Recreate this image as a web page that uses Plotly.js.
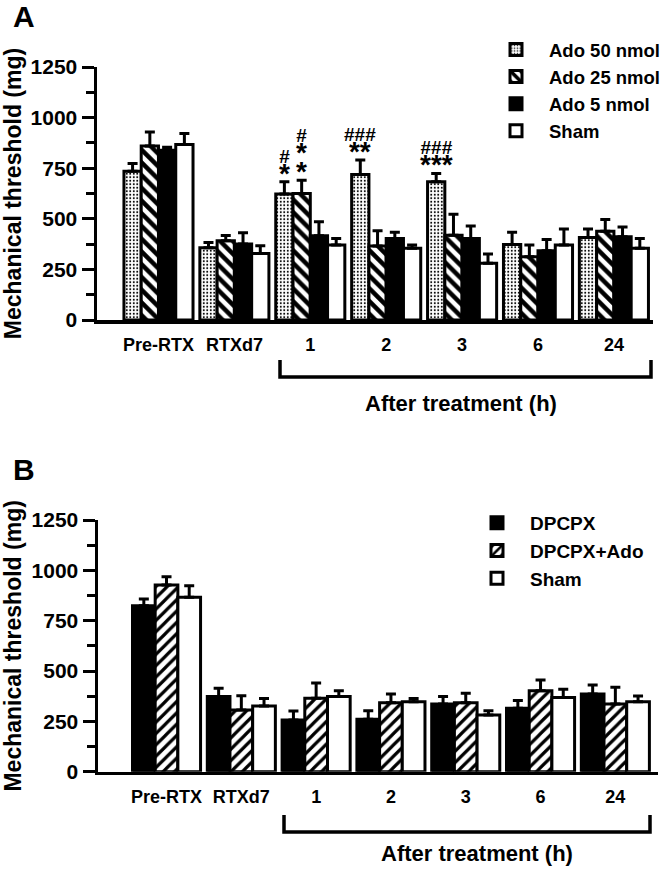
<!DOCTYPE html>
<html>
<head>
<meta charset="utf-8">
<script src="https://cdn.plot.ly/plotly-3.0.1.min.js"></script>
<style>
  body { margin: 0; background: #fff; }
  #chart { width: 670px; height: 869px; }
</style>
</head>
<body>
<div id="chart"></div>
<script>
// time points (x categories)
const timepoints = ['Pre-RTX', 'RTXd7', '1', '2', '3', '6', '24'];

// panel A: adenosine doses
const ado50 = [735, 357, 622, 719, 683, 373, 408];
const ado50Err = [38, 26, 61, 71, 41, 60, 41];
const ado25 = [860, 391, 625, 365, 419, 312, 439];
const ado25Err = [69, 27, 66, 76, 104, 58, 58];
const ado5 = [839, 375, 416, 403, 403, 342, 411];
const ado5Err = [15, 56, 69, 30, 62, 56, 49];
const shamA = [867, 329, 370, 354, 280, 370, 354];
const shamAErr = [54, 38, 33, 16, 46, 79, 49];

// panel B: DPCPX
const dpcpx = [824, 373, 257, 260, 336, 315, 386];
const dpcpxErr = [34, 41, 44, 43, 37, 38, 44];
const dpcpxAdo = [927, 306, 365, 343, 343, 402, 336];
const dpcpxAdoErr = [41, 71, 75, 43, 46, 53, 83];
const shamB = [866, 326, 373, 348, 281, 369, 348];
const shamBErr = [58, 38, 29, 16, 22, 40, 28];

// significance marks in panel A (group index, bar index, stars, hashes)
const markGroup = [2, 2, 3, 4];
const markBar = [0, 1, 0, 0];
const markStars = ['*', '*|*', '**', '***'];
const markHash = ['#', '#', '###', '###'];

const W = 670, H = 869;
const px = x => x / W;
const py = y => 1 - y / H;
const FONT = 'Liberation Sans, Arial, sans-serif';
const bold = (size) => ({family: FONT, size: size, color: 'black', weight: 'bold'});

function bar(name, y, err, pattern, color, xa, ya, legend) {
    return {
        type: 'bar', name: name, x: timepoints, y: y,
        xaxis: xa, yaxis: ya, legend: legend, legendgroup: name,
        marker: {
            color: color,
            line: {color: 'black', width: 3},
            pattern: pattern
        },
        error_y: {
            type: 'data', symmetric: false, array: err,
            arrayminus: err.map(() => 0),
            color: 'black', thickness: 3, width: 5
        },
        hoverinfo: 'skip'
    };
}

const dots = {shape: '.', fgcolor: 'black', bgcolor: 'white', size: 3.5, solidity: 0.25};
const back = {shape: '\\', fgcolor: 'black', bgcolor: 'white', size: 9, solidity: 0.5};
const fwd = {shape: '/', fgcolor: 'black', bgcolor: 'white', size: 8, solidity: 0.4};

const data = [
    bar('Ado 50 nmol', ado50, ado50Err, dots, 'white', 'x', 'y', 'legend'),
    bar('Ado 25 nmol', ado25, ado25Err, back, 'white', 'x', 'y', 'legend'),
    bar('Ado 5 nmol', ado5, ado5Err, {shape: ''}, 'black', 'x', 'y', 'legend'),
    bar('Sham', shamA, shamAErr, {shape: ''}, 'white', 'x', 'y', 'legend'),
    bar('DPCPX', dpcpx, dpcpxErr, {shape: ''}, 'black', 'x2', 'y2', 'legend2'),
    bar('DPCPX+Ado', dpcpxAdo, dpcpxAdoErr, fwd, 'white', 'x2', 'y2', 'legend2'),
    bar('Sham ', shamB, shamBErr, {shape: ''}, 'white', 'x2', 'y2', 'legend2')
];

function yAxis(domain, anchor) {
    return {
        domain: domain, anchor: anchor, range: [0, 1250],
        tickvals: [0, 250, 500, 750, 1000, 1250],
        ticks: 'outside', ticklen: 12, tickwidth: 3, tickcolor: 'black',
        minor: {dtick: 125, ticks: 'outside', ticklen: 8, tickwidth: 3, tickcolor: 'black'},
        showline: true, linewidth: 3.5, linecolor: 'black',
        showgrid: false, zeroline: false,
        tickfont: bold(21),
        title: {text: 'Mechanical threshold (mg)', font: bold(23), standoff: 4},
        fixedrange: true
    };
}
function xAxis(domain, anchor, range) {
    return {
        domain: domain, anchor: anchor, type: 'category', range: range,
        showline: true, linewidth: 3.5, linecolor: 'black',
        ticks: '', showgrid: false, zeroline: false,
        tickfont: bold(18), ticklabelstandoff: 6,
        fixedrange: true
    };
}

// significance marks: one stacked text per bar, hashes on top of stars
const nBarsA = 4, gap = 0.09, bw = (1 - gap) / nBarsA;
const annotations = [];
markGroup.forEach((g, i) => {
    const b = markBar[i];
    const series = [ado50, ado25, ado5, shamA][b];
    const errs = [ado50Err, ado25Err, ado5Err, shamAErr][b];
    const rows = ['<span style="font-size:19px">' + markHash[i] + '</span>']
        .concat(markStars[i].split('|').map(s => '<span style="font-size:28px">' + s + '</span>'));
    annotations.push({
        xref: 'x', yref: 'y',
        x: g + (b - (nBarsA - 1) / 2) * bw,
        y: series[g] + errs[g],
        yanchor: 'bottom', yshift: -9,
        text: rows.join('<br>'), showarrow: false, font: bold(15)
    });
});

// panel letters and bracket titles
function label(x, y, text, size) {
    return {xref: 'paper', yref: 'paper', x: px(x), y: py(y), xanchor: 'center',
        yanchor: 'middle', text: text, showarrow: false, font: bold(size)};
}
annotations.push(label(24, 17, 'A', 30));
annotations.push(label(24, 469, 'B', 30));
annotations.push(label(461, 403, 'After treatment (h)', 22));
annotations.push(label(477, 853, 'After treatment (h)', 22));

function bracket(x0, x1, ytop, ybot) {
    return {
        type: 'path', xref: 'paper', yref: 'paper',
        path: 'M' + px(x0) + ',' + py(ytop) + ' L' + px(x0) + ',' + py(ybot) +
              ' L' + px(x1) + ',' + py(ybot) + ' L' + px(x1) + ',' + py(ytop),
        line: {color: 'black', width: 3.5}
    };
}

const layout = {
    width: W, height: H,
    margin: {l: 0, r: 0, t: 0, b: 0, autoexpand: false},
    paper_bgcolor: 'white', plot_bgcolor: 'white',
    font: {family: FONT, color: 'black', weight: 'bold'},
    barmode: 'group', bargap: gap, bargroupgap: 0,
    xaxis: xAxis([px(97), px(653)], 'y', [-0.81, 6.515]),
    yaxis: yAxis([py(320), py(67)], 'x'),
    xaxis2: xAxis([px(98), px(658)], 'y2', [-0.916, 6.57]),
    yaxis2: yAxis([py(771.7), py(520)], 'x2'),
    legend: {x: px(483), y: py(31), xanchor: 'left', yanchor: 'top',
        font: bold(18.5), bgcolor: 'rgba(0,0,0,0)', itemwidth: 56, tracegroupgap: 0},
    legend2: {x: px(464), y: py(504), xanchor: 'left', yanchor: 'top',
        font: bold(19), bgcolor: 'rgba(0,0,0,0)', itemwidth: 56, tracegroupgap: 0},
    shapes: [bracket(280, 651, 360, 377), bracket(284, 650, 815, 832)],
    annotations: annotations,
    showlegend: true
};

Plotly.newPlot('chart', data, layout, {displayModeBar: false, staticPlot: true});
</script>
</body>
</html>
